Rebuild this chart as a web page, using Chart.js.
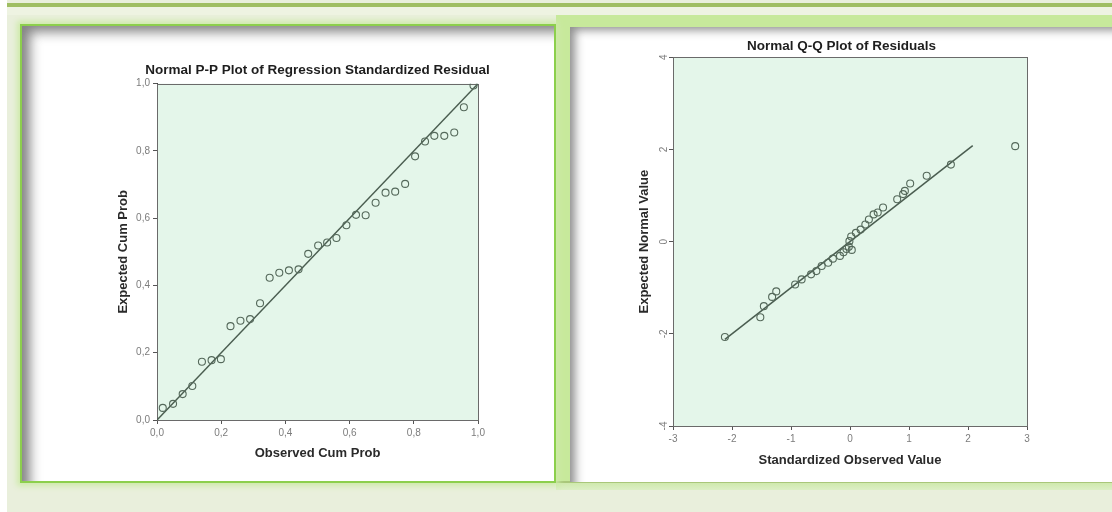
<!DOCTYPE html>
<html><head><meta charset="utf-8">
<script src="https://cdn.jsdelivr.net/npm/chart.js@4.4.1/dist/chart.umd.min.js"></script>
<style>
html,body{margin:0;padding:0;width:1112px;height:512px;overflow:hidden;background:#fff;}
#bg{position:absolute;left:7px;top:0;width:1105px;height:512px;background:#e9efdc;}
#topline{position:absolute;left:7px;top:3px;width:1105px;height:4px;background:#9fbe62;}
#topband{position:absolute;left:7px;top:7px;width:1105px;height:8px;background:#eef3e2;}
.panel{position:absolute;background:#fff;box-sizing:border-box;}
#p1{left:20px;top:24px;width:536px;height:459px;border:2px solid #8ccf4c;box-shadow:0 0 6px 3px #cdeaa8, inset 14px 12px 12px -6px rgba(50,50,50,0.6);}
#band{position:absolute;left:556px;top:15px;width:14px;height:475px;background:#c7e99b;}
#p2top{position:absolute;left:556px;top:15px;width:556px;height:12px;background:#c7e99b;}
#p2{left:570px;top:27px;width:542px;height:455px;box-shadow: inset 10px 8px 10px -5px rgba(50,50,50,0.55);}
#p2bot{position:absolute;left:556px;top:481px;width:556px;height:9px;background:linear-gradient(#a9c77a 0, #a9c77a 2px, #cfe9ad 2px, #dcefc5 100%);}
canvas{position:absolute;top:0;}
#c1{left:0;}
#c2{left:560px;}
</style>
</head>
<body>
<div id="bg"></div><div id="topline"></div><div id="topband"></div>
<div id="band"></div><div id="p2top"></div><div id="p2bot"></div>
<div class="panel" id="p1"></div>
<div class="panel" id="p2"></div>
<canvas id="c1" width="560" height="512"></canvas>
<canvas id="c2" width="552" height="512"></canvas>
<script>
// ---- P-P plot data ----
const ppObserved = [0.018,0.050,0.080,0.110,0.140,0.170,0.199,0.229,0.260,0.290,0.321,0.351,0.381,0.411,0.441,0.471,0.502,0.530,0.559,0.590,0.620,0.650,0.681,0.712,0.742,0.773,0.804,0.835,0.864,0.895,0.926,0.956,0.986];
const ppExpected = [0.036,0.048,0.077,0.101,0.173,0.178,0.181,0.279,0.295,0.300,0.347,0.423,0.438,0.445,0.448,0.494,0.519,0.528,0.541,0.579,0.610,0.609,0.646,0.676,0.679,0.702,0.784,0.828,0.845,0.845,0.855,0.930,0.995];
const ppLineX = [0, 1];
const ppLineY = [0, 1];
const ppTickValues = [0, 0.2, 0.4, 0.6, 0.8, 1.0];
const ppTickLabels = ['0,0', '0,2', '0,4', '0,6', '0,8', '1,0'];

// ---- Q-Q plot data ----
const qqObserved = [-2.12,-1.52,-1.46,-1.32,-1.25,-0.93,-0.82,-0.66,-0.57,-0.48,-0.37,-0.29,-0.17,-0.11,-0.06,-0.02,-0.01,0.02,0.03,0.10,0.18,0.26,0.32,0.40,0.47,0.56,0.80,0.90,0.93,1.02,1.30,1.71,2.80];
const qqExpected = [-2.07,-1.64,-1.40,-1.20,-1.08,-0.93,-0.82,-0.71,-0.64,-0.53,-0.46,-0.37,-0.31,-0.23,-0.16,-0.11,0.01,0.11,-0.18,0.19,0.26,0.37,0.48,0.59,0.63,0.74,0.92,1.03,1.10,1.26,1.43,1.67,2.07];
const qqLineX = [-2.12, 2.08];
const qqLineY = [-2.12, 2.08];
const qqXTickValues = [-3, -2, -1, 0, 1, 2, 3];
const qqXTickLabels = ['-3', '-2', '-1', '0', '1', '2', '3'];
const qqYTickValues = [-4, -2, 0, 2, 4];
const qqYTickLabels = ['-4', '-2', '0', '2', '4'];

Chart.defaults.font.family = "'Liberation Sans', Arial, sans-serif";
Chart.defaults.animation = false;

const plotBg = {
  id: 'plotBg',
  beforeDraw(chart) {
    const {ctx, chartArea: a} = chart;
    ctx.save();
    ctx.fillStyle = '#e4f6ea';
    ctx.fillRect(a.left, a.top, a.right - a.left, a.bottom - a.top);
    ctx.restore();
  },
  beforeDatasetsDraw(chart) {
    const {ctx, chartArea: a} = chart;
    ctx.save();
    ctx.strokeStyle = '#6a6a6a';
    ctx.lineWidth = 1;
    ctx.strokeRect(Math.round(a.left) + 0.5, Math.round(a.top) + 0.5, Math.round(a.right - a.left), Math.round(a.bottom - a.top));
    ctx.restore();
  }
};

function pts(xs, ys) { return xs.map((x, i) => ({x: x, y: ys[i]})); }

function axis(min, max, values, labels, title, fit, extraTicks) {
  return {
    type: 'linear', min: min, max: max,
    afterBuildTicks: s => { s.ticks = values.map(v => ({value: v})); },
    ticks: Object.assign({callback: (v, i) => labels[i], color: '#7c7c7c', font: {size: 10}, padding: 3}, extraTicks || {}),
    grid: {display: true, drawOnChartArea: false, drawTicks: true, tickLength: 4, color: '#555'},
    border: {display: true, color: '#444', width: 1},
    title: {display: true, text: title, font: {size: 13, weight: 'bold'}, color: '#2a2a2a', padding: 0},
    afterFit: fit
  };
}

// empty spacer on the right side, so the full-width title is centred over the plot
function spacer(w) {
  return {
    type: 'linear', position: 'right', display: true,
    ticks: {display: false}, grid: {display: false}, border: {display: false}, title: {display: false},
    afterFit: s => { s.width = w; }
  };
}

function datasets(xs, ys, lx, ly) {
  return [
    {data: pts(lx, ly), showLine: true, borderColor: '#4a5d50', borderWidth: 1.5, pointRadius: 0, order: 2},
    {data: pts(xs, ys), showLine: false, pointStyle: 'circle', pointRadius: 3.5, borderColor: '#55695b', borderWidth: 1.1, backgroundColor: 'rgba(0,0,0,0)', order: 1}
  ];
}

new Chart(document.getElementById('c1'), {
  type: 'scatter',
  data: {datasets: datasets(ppObserved, ppExpected, ppLineX, ppLineY)},
  options: {
    responsive: false, animation: false,
    layout: {padding: {left: 116, right: 41, top: 62.5, bottom: 51}},
    plugins: {
      legend: {display: false}, tooltip: {enabled: false},
      title: {display: true, text: 'Normal P-P Plot of Regression Standardized Residual', font: {size: 13.5, weight: 'bold'}, color: '#1e1e1e', padding: {top: 0, bottom: 5}, fullSize: true}
    },
    scales: {
      x: axis(0, 1, ppTickValues, ppTickLabels, 'Observed Cum Prob', s => { s.height = 41; }, {maxRotation: 0}),
      y: axis(0, 1, ppTickValues, ppTickLabels, 'Expected Cum Prob', s => { s.width = 41; }),
      pad: spacer(41)
    }
  },
  plugins: [plotBg]
});

new Chart(document.getElementById('c2'), {
  type: 'scatter',
  data: {datasets: datasets(qqObserved, qqExpected, qqLineX, qqLineY)},
  options: {
    responsive: false, animation: false,
    layout: {padding: {left: 77, right: 66, top: 38, bottom: 44}},
    plugins: {
      legend: {display: false}, tooltip: {enabled: false},
      title: {display: true, text: 'Normal Q-Q Plot of Residuals', font: {size: 13.5, weight: 'bold'}, color: '#1e1e1e', padding: {top: 0, bottom: 3}, fullSize: true}
    },
    scales: {
      x: axis(-3, 3, qqXTickValues, qqXTickLabels, 'Standardized Observed Value', s => { s.height = 42; }, {maxRotation: 0}),
      y: axis(-4, 4, qqYTickValues, qqYTickLabels, 'Expected Normal Value', s => { s.width = 36; }, {minRotation: 90, maxRotation: 90, crossAlign: 'center', padding: 0}),
      pad: spacer(19)
    }
  },
  plugins: [plotBg]
});
</script>
</body></html>
